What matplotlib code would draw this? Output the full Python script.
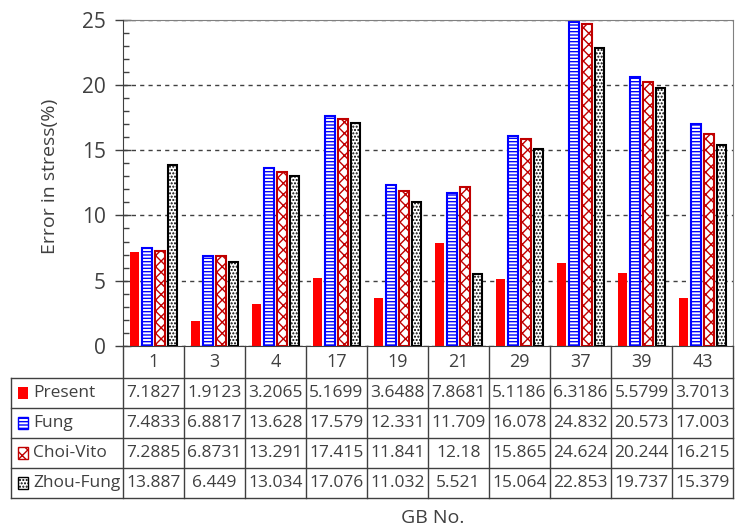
import numpy as np
import matplotlib.pyplot as plt
from matplotlib.patches import Rectangle
from matplotlib.ticker import MultipleLocator
from matplotlib.transforms import blended_transform_factory

# data
categories = ['1', '3', '4', '17', '19', '21', '29', '37', '39', '43']
present = [7.1827, 1.9123, 3.2065, 5.1699, 3.6488, 7.8681, 5.1186, 6.3186, 5.5799, 3.7013]
fung = [7.4833, 6.8817, 13.628, 17.579, 12.331, 11.709, 16.078, 24.832, 20.573, 17.003]
choi_vito = [7.2885, 6.8731, 13.291, 17.415, 11.841, 12.18, 15.865, 24.624, 20.244, 16.215]
zhou_fung = [13.887, 6.449, 13.034, 17.076, 11.032, 5.521, 15.064, 22.853, 19.737, 15.379]
names = ['Present', 'Fung', 'Choi-Vito', 'Zhou-Fung']

plt.rcParams['font.family'] = ['Open Sans', 'DejaVu Sans']
txt = '#404040'

fig = plt.figure(figsize=(7.43, 5.29), dpi=100)
ax = fig.add_axes([123 / 743, 1 - 346 / 529, 610 / 743, 326.5 / 529])

styles = [
    dict(facecolor='#FF0000', edgecolor='none', linewidth=0),
    dict(facecolor='white', edgecolor='#0000FF', hatch='-----', linewidth=1.5),
    dict(facecolor='white', edgecolor='#C00000', hatch='xxx', linewidth=1.5),
    dict(facecolor='white', edgecolor='black', hatch='.....', linewidth=1.5),
]
series = [present, fung, choi_vito, zhou_fung]

x = np.arange(len(categories))
step = 0.208
w = 0.155
for i, vals in enumerate(series):
    ax.bar(x + (i - 1.5) * step, vals, w, **styles[i])

ax.set_xlim(-0.5, len(categories) - 0.5)
ax.set_ylim(0, 25)
ax.set_yticks(range(0, 26, 5))
ax.yaxis.set_minor_locator(MultipleLocator(1))
ax.tick_params(axis='x', bottom=False, labelbottom=False)
ax.tick_params(axis='y', which='major', direction='inout', length=11, width=1,
               labelsize=15, labelcolor=txt, color=txt, pad=7)
ax.tick_params(axis='y', which='minor', direction='in', length=4.5, width=1, color=txt)
ax.set_axisbelow(True)
ax.yaxis.grid(True, ls=(0, (3, 3)), color=txt, lw=1)
for s in ['top', 'right']:
    ax.spines[s].set_color('#808080')
for s in ['left', 'bottom']:
    ax.spines[s].set_color(txt)
    ax.spines[s].set_zorder(3)

# data table
trans = blended_transform_factory(ax.transData, ax.transAxes)
unit = 610 / len(categories)
h0 = 31.7 / 326.5
h = 30 / 326.5
x_left = -0.5 - 112 / unit
x_right = len(categories) - 0.5
y_bottom = -h0 - len(names) * h
lk = dict(transform=trans, clip_on=False, color=txt, lw=1)

for k in range(len(categories) + 1):
    ax.plot([k - 0.5, k - 0.5], [0, y_bottom], **lk)
ax.plot([x_left, x_left], [-h0, y_bottom], **lk)
for r in range(len(names) + 1):
    yy = -h0 - r * h
    ax.plot([x_left, x_right], [yy, yy], **lk)

for k, c in enumerate(categories):
    ax.text(k, -h0 / 2, c, transform=trans, ha='center', va='center', fontsize=13, color=txt)

for r, vals in enumerate(series):
    yc = -h0 - (r + 0.5) * h
    for k, v in enumerate(vals):
        ax.text(k, yc, str(v), transform=trans, ha='center', va='center', fontsize=12.5, color=txt)
    ax.text(-0.5 - 90 / unit, yc, names[r], transform=trans, ha='left', va='center',
            fontsize=12.5, color=txt)
    sw = Rectangle((-0.5 - 105 / unit, yc - 6 / 326.5), 10 / unit, 12 / 326.5,
                   transform=trans, clip_on=False,
                   **{k2: v2 for k2, v2 in styles[r].items() if k2 != 'linewidth'},
                   linewidth=1)
    ax.add_patch(sw)

fig.text(50 / 743, 1 - 176 / 529, 'Error in stress(%)', rotation=90, ha='center', va='center',
         fontsize=14, color=txt)
fig.text(433 / 743, 1 - 518 / 529, 'GB No.', ha='center', va='center', fontsize=14, color=txt)

fig.savefig('out.png', dpi=100)
